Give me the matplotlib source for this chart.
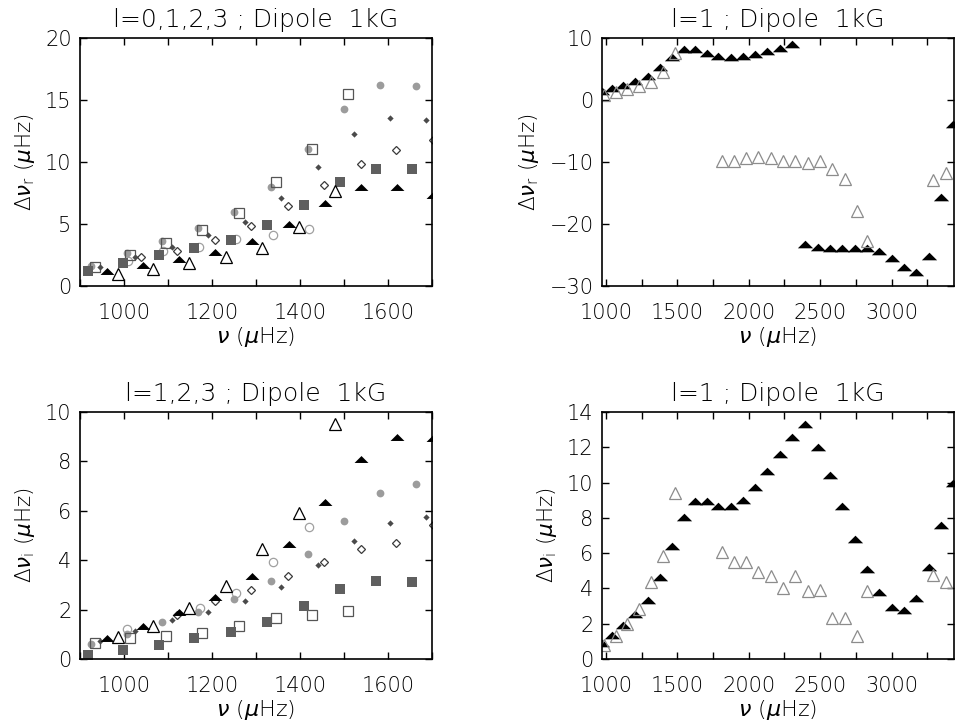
import matplotlib
matplotlib.use('Agg')
import matplotlib.pyplot as plt
import numpy as np
from matplotlib.ticker import MultipleLocator

# ---- data (frequencies in muHz, shifts in muHz) ----

# left column: l=0,1,2,3 (top = real part, bottom = imaginary part)
sq_nu = [918, 997, 1079, 1160, 1244, 1325, 1408, 1490, 1572, 1655]
sq_r = [1.24, 1.83, 2.47, 3.04, 3.71, 4.92, 6.53, 8.36, 9.44, 9.44]
sq_i = [0.18, 0.36, 0.56, 0.83, 1.10, 1.50, 2.13, 2.83, 3.14, 3.12]

osq_nu = [935, 1013, 1095, 1178, 1261, 1346, 1428, 1510]
osq_r = [1.56, 2.50, 3.50, 4.52, 5.91, 8.41, 11.07, 15.48]
osq_i = [0.65, 0.85, 0.92, 1.06, 1.32, 1.66, 1.80, 1.93]

circ_nu = [926, 1006, 1087, 1168, 1251, 1334, 1418, 1501, 1582, 1664]
circ_r = [1.61, 2.63, 3.66, 4.70, 6.00, 8.01, 11.02, 14.27, 16.20, 16.15]
circ_i = [0.61, 1.03, 1.50, 1.89, 2.43, 3.17, 4.26, 5.60, 6.71, 7.08]

ocirc_nu_r = [1008, 1089, 1170, 1255, 1338, 1421]
ocirc_r = [2.00, 2.80, 3.15, 3.75, 4.10, 4.60]
ocirc_nu_i = [1006, 1172, 1255, 1338, 1421]
ocirc_i = [1.23, 2.07, 2.67, 3.91, 5.36]

dia_nu = [946, 1026, 1108, 1191, 1274, 1357, 1440, 1522, 1605, 1687]
dia_r = [1.51, 2.37, 3.17, 4.11, 5.19, 7.07, 9.57, 12.23, 13.57, 13.39]
dia_i = [0.72, 1.15, 1.57, 1.89, 2.33, 2.91, 3.79, 4.78, 5.52, 5.74]

odia_nu_r = [1039, 1121, 1206, 1288, 1372, 1455, 1538, 1619, 1703]
odia_r = [2.37, 2.85, 3.71, 4.84, 6.45, 8.15, 9.84, 10.97, 11.80]
odia_nu_i = [1121, 1206, 1289, 1372, 1455, 1538, 1619, 1703]
odia_i = [1.80, 2.36, 2.78, 3.37, 3.92, 4.45, 4.71, 5.43]

tri_nu = [962, 1044, 1125, 1207, 1290, 1375, 1457, 1538, 1621, 1703]
tri_r = [1.20, 1.70, 2.15, 2.77, 3.60, 4.97, 6.72, 8.01, 8.01, 7.30]
tri_i = [0.86, 1.32, 1.89, 2.51, 3.37, 4.65, 6.37, 8.08, 8.97, 8.93]

otri_nu = [987, 1067, 1148, 1231, 1314, 1397, 1480]
otri_r = [0.94, 1.40, 1.83, 2.37, 3.04, 4.78, 7.69]
otri_i = [0.90, 1.32, 2.07, 2.94, 4.46, 5.90, 9.50]

# right column: l=1 over a wider range
b_nu = [975, 1045, 1122, 1205, 1292, 1375, 1460, 1548, 1625, 1704, 1786, 1875, 1959,
        2043, 2130, 2218, 2304, 2391, 2482, 2566, 2654, 2741, 2825, 2914, 3001,
        3087, 3174, 3262, 3349, 3432]
b_r = [1.5, 2.0, 2.5, 3.1, 3.9, 5.3, 7.0, 8.3, 8.3, 7.6, 7.1, 6.9, 7.1,
       7.4, 7.9, 8.4, 9.0, -23.3, -23.7, -23.9, -23.9, -23.8, -23.8, -24.3, -25.5,
       -27.0, -27.8, -25.1, -15.7, -3.8]
b_i = [0.90, 1.37, 1.93, 2.55, 3.37, 4.65, 6.39, 8.06, 8.96, 8.96, 8.67, 8.66, 9.03,
       9.74, 10.64, 11.60, 12.60, 13.30, 12.00, 10.45, 8.67, 6.80, 5.12, 3.77, 2.93,
       2.78, 3.47, 5.21, 7.60, 10.00]

g_nu = [988, 1068, 1150, 1234, 1316, 1397, 1482, 1813, 1894, 1977, 2065, 2152,
        2239, 2325, 2414, 2499, 2585, 2671, 2757, 2826, 3290, 3380]
g_r = [0.8, 1.34, 1.72, 2.26, 2.96, 4.57, 7.63, -9.8, -9.8, -9.4, -9.2, -9.4,
       -9.8, -9.8, -10.1, -9.8, -11.2, -12.8, -17.9, -22.7, -12.9, -11.7]
g_i = [0.81, 1.28, 1.99, 2.83, 4.37, 5.81, 9.39, 6.05, 5.49, 5.49, 4.93, 4.69,
       4.03, 4.69, 3.86, 3.90, 2.31, 2.31, 1.31, 3.86, 4.74, 4.37]

titles = ['l=0,1,2,3 ; Dipole  1kG', 'l=1 ; Dipole  1kG',
          'l=1,2,3 ; Dipole  1kG', 'l=1 ; Dipole  1kG']

plt.rcParams['font.family'] = ['DejaVu Sans']
plt.rcParams['font.weight'] = 'light'
plt.rcParams['axes.titleweight'] = 'light'
plt.rcParams['axes.labelweight'] = 'light'
plt.rcParams['mathtext.fontset'] = 'dejavusans'

flat_tri = [(-1, -0.5), (1, -0.5), (0, 0.5)]

fig = plt.figure(figsize=(9.56, 7.23), dpi=100)
W, H = 956, 723
def box(x0, y0, x1, y1):
    return [x0 / W, 1 - y1 / H, (x1 - x0) / W, (y1 - y0) / H]

ax1 = fig.add_axes(box(80, 38, 432, 286))
ax2 = fig.add_axes(box(602, 38, 954, 286))
ax3 = fig.add_axes(box(80, 412, 432, 659))
ax4 = fig.add_axes(box(602, 412, 954, 659))


def left_panel(ax, o_nu, o_y, c_y, os_y, s_y, od_nu, od_y, d_y, t_y, ot_y):
    kw = dict(ls='none', clip_on=True)
    ax.plot(o_nu, o_y, marker='o', ms=6, mfc='none', mec='#a0a0a0', mew=0.9, **kw)
    ax.plot(circ_nu, c_y, marker='o', ms=5.6, mfc='#9c9c9c', mew=0, **kw)
    ax.plot(osq_nu, os_y, marker='s', ms=6.6, mfc='none', mec='#555555', mew=0.9, **kw)
    ax.plot(sq_nu, s_y, marker='s', ms=7.4, mfc='#5f5f5f', mew=0, **kw)
    ax.plot(dia_nu, d_y, marker='D', ms=3.2, mfc='#4a4a4a', mew=0, **kw)
    ax.plot(od_nu, od_y, marker='D', ms=4.0, mfc='none', mec='#3a3a3a', mew=0.9, **kw)
    ax.plot(tri_nu, t_y, marker=flat_tri, ms=10, mfc='black', mew=0, **kw)
    ax.plot(otri_nu, ot_y, marker='^', ms=8.5, mfc='none', mec='black', mew=0.9, **kw)
    ax.set_xlim(900, 1700)
    ax.xaxis.set_major_locator(MultipleLocator(200))
    ax.xaxis.set_minor_locator(MultipleLocator(100))


def right_panel(ax, by, gy):
    kw = dict(ls='none', clip_on=True)
    ax.plot(b_nu, by, marker=flat_tri, ms=11, mfc='black', mew=0, **kw)
    ax.plot(g_nu, gy, marker='^', ms=8.5, mfc='none', mec='#8c8c8c', mew=0.9, **kw)
    ax.set_xlim(972, 3437)
    ax.xaxis.set_major_locator(MultipleLocator(500))
    ax.xaxis.set_minor_locator(MultipleLocator(250))


left_panel(ax1, ocirc_nu_r, ocirc_r, circ_r, osq_r, sq_r, odia_nu_r, odia_r, dia_r, tri_r, otri_r)
ax1.set_ylim(0, 20)
ax1.yaxis.set_major_locator(MultipleLocator(5))

left_panel(ax3, ocirc_nu_i, ocirc_i, circ_i, osq_i, sq_i, odia_nu_i, odia_i, dia_i, tri_i, otri_i)
ax3.set_ylim(0, 10)
ax3.yaxis.set_major_locator(MultipleLocator(2))

right_panel(ax2, b_r, g_r)
ax2.set_ylim(-30, 10)
ax2.yaxis.set_major_locator(MultipleLocator(10))

right_panel(ax4, b_i, g_i)
ax4.set_ylim(0, 14)
ax4.yaxis.set_major_locator(MultipleLocator(2))

ylabels = [r'$\Delta\nu_{\rm r}$ ($\mu$Hz)', r'$\Delta\nu_{\rm r}$ ($\mu$Hz)',
           r'$\Delta\nu_{\rm i}$ ($\mu$Hz)', r'$\Delta\nu_{\rm i}$ ($\mu$Hz)']

for ax, t, yl in zip([ax1, ax2, ax3, ax4], titles, ylabels):
    ax.set_title(t, fontsize=18, pad=8)
    ax.set_xlabel(r'$\nu$ ($\mu$Hz)', fontsize=16, labelpad=2)
    ax.set_ylabel(yl, fontsize=15.5, labelpad=6)
    ax.tick_params(which='both', direction='in', top=True, right=True,
                   labelsize=15, width=1)
    ax.tick_params(axis='x', which='major', length=5, pad=12)
    ax.tick_params(axis='y', which='major', length=5, pad=6)
    ax.tick_params(which='minor', length=5)
    for s in ax.spines.values():
        s.set_linewidth(1.2)

fig.savefig('out.png', dpi=100)
